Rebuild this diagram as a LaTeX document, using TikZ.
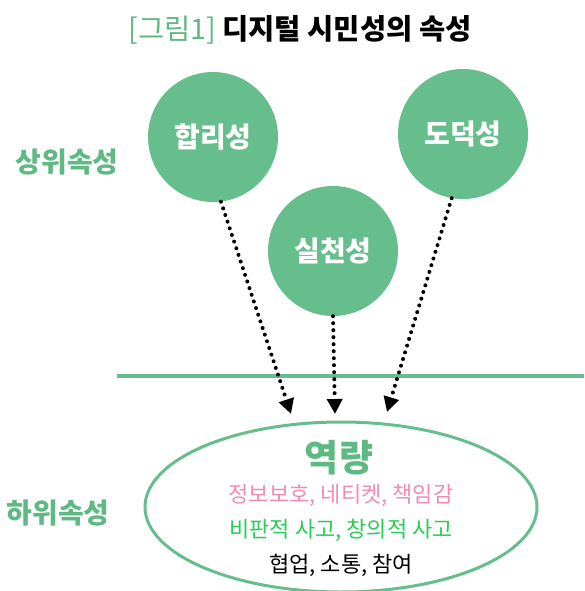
\documentclass[tikz,border=0pt]{standalone}
\usepackage{fontspec}
\setmainfont{Noto Sans CJK KR}
\usetikzlibrary{arrows.meta,shapes.geometric}
\definecolor{cgreen}{RGB}{102,190,140}
\definecolor{lgreen}{RGB}{95,185,130}
\definecolor{cpink}{RGB}{240,140,180}
\definecolor{bgreen}{RGB}{40,205,85}
\begin{document}
\begin{tikzpicture}[x=1pt,y=-1pt,
  attr/.style={circle,fill=cgreen,minimum size=130pt,inner sep=0pt,text=white,font=\fontsize{28}{28}\selectfont\bfseries},
  sidelabel/.style={text=lgreen,font=\fontsize{28}{28}\selectfont\bfseries},
  dotarrow/.style={line width=4pt,line cap=round,dash pattern=on 0pt off 7pt,-{Triangle[length=15pt,width=15pt,line cap=butt]}},
  line/.style={font=\fontsize{22}{22}\selectfont}]
\useasboundingbox (0,0) rectangle (584,591);
\node[font=\fontsize{28.5}{28.5}\selectfont\bfseries] (title) at (300,30) {\textcolor{lgreen}{\mdseries[그림1]} 디지털 시민성의 속성};
\node[sidelabel] (upper) at (67,162) {상위속성};
\node[sidelabel] (lower) at (58,513) {하위속성};
\node[attr] (a) at (213,137) {합리성};
\node[attr] (b) at (463,134) {도덕성};
\node[attr] (c) at (333,251) {실천성};
\draw[cgreen,line width=4pt] (117,376) -- (584,376);
\node[ellipse,draw=cgreen,line width=3pt,minimum width=392pt,minimum height=170pt,inner sep=0pt] (e) at (341,507) {};
\node[text=lgreen,font=\fontsize{37}{37}\selectfont\bfseries] (t0) at (339,458) {역량};
\node[line,text=cpink] (t1) at (341,495) {정보보호, 네티켓, 책임감};
\node[line,text=bgreen] (t2) at (341,530) {비판적 사고, 창의적 사고};
\node[line] (t3) at (341,565) {협업, 소통, 참여};
\coordinate (ea) at (291,414);
\coordinate (ec) at (335,414);
\coordinate (eb) at (387,412);
\draw[dotarrow] (a.-83) -- (ea);
\draw[dotarrow] (c.south) -- (ec);
\draw[dotarrow] (b.-100) -- (eb);
\end{tikzpicture}
\end{document}
